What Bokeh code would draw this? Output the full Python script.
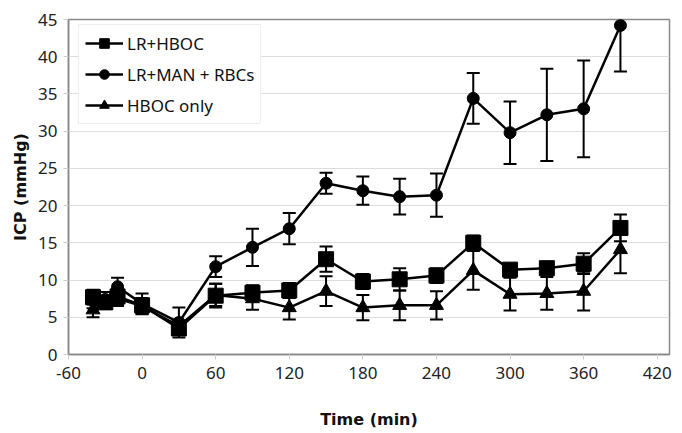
from bokeh.plotting import figure
from bokeh.models import Range1d, ColumnDataSource, Whisker, TeeHead, Legend, LegendItem, FixedTicker
from bokeh.embed import file_html
from bokeh.resources import INLINE

time_min = [-40, -30, -20, 0, 30, 60, 90, 120, 150, 180, 210, 240, 270, 300, 330, 360, 390]

lr_hboc = [7.7, 7.0, 7.8, 6.6, 3.5, 7.9, 8.3, 8.6, 12.8, 9.8, 10.1, 10.6, 15.0, 11.4, 11.6, 12.2, 17.0]
lr_hboc_err = [1.0, 0.8, 1.0, 1.0, 0.8, 1.6, 1.0, 1.0, 1.7, 1.0, 1.5, 1.0, 1.0, 0.8, 0.8, 1.4, 1.8]

lr_man_rbc = [7.2, 7.4, 9.1, 6.8, 4.3, 11.8, 14.4, 16.9, 23.0, 22.0, 21.2, 21.4, 34.4, 29.8, 32.2, 33.0, 44.2]
lr_man_rbc_err = [1.0, 1.0, 1.2, 1.4, 2.0, 1.4, 2.5, 2.1, 1.4, 1.9, 2.4, 2.9, 3.4, 4.2, 6.2, 6.5, 6.2]

hboc_only = [6.0, 7.0, 7.5, 6.5, 3.8, 8.0, 7.5, 6.3, 8.5, 6.3, 6.6, 6.6, 11.3, 8.1, 8.2, 8.5, 14.1]
hboc_only_err = [1.0, 0.8, 1.0, 1.0, 0.8, 1.5, 1.5, 1.6, 2.0, 1.7, 2.0, 1.9, 2.6, 2.2, 2.2, 2.6, 3.2]

x_ticks = [-60, 0, 60, 120, 180, 240, 300, 360, 420]
y_ticks = [0, 5, 10, 15, 20, 25, 30, 35, 40, 45]

labels = ["LR+HBOC", "LR+MAN + RBCs", "HBOC only"]

p = figure(width=682, height=433, output_backend="svg", toolbar_location=None,
           x_range=Range1d(-60, 430), y_range=Range1d(0, 45),
           min_border_left=68, min_border_right=13, min_border_top=19, min_border_bottom=79)
p.background_fill_color = "white"
p.border_fill_color = "white"
p.outline_line_color = "#888888"
p.outline_line_width = 1.5

p.xgrid.grid_line_color = None
p.ygrid.grid_line_color = "#dddddd"
p.ygrid.grid_line_width = 1

p.xaxis.ticker = FixedTicker(ticks=x_ticks)
p.yaxis.ticker = FixedTicker(ticks=y_ticks)
p.xaxis.major_label_overrides = {t: str(t) for t in x_ticks}
for ax in (p.xaxis[0], p.yaxis[0]):
    ax.axis_line_color = "#888888"
    ax.axis_line_width = 1.5
    ax.major_tick_line_color = "#cccccc"
    ax.major_tick_out = 5
    ax.major_tick_in = 0
    ax.minor_tick_line_color = None
    ax.major_label_text_font = "Noto Sans"
    ax.major_label_text_font_size = "17px"
    ax.major_label_text_color = "#222222"
    ax.axis_label_text_font = "DejaVu Sans"
    ax.axis_label_text_font_style = "bold"
    ax.axis_label_text_font_size = "16px"
    ax.axis_label_text_color = "#111111"
p.xaxis.major_label_standoff = 7
p.yaxis.major_label_standoff = 6
p.xaxis.axis_label = "Time (min)"
p.yaxis.axis_label = "ICP (mmHg)"
p.xaxis.axis_label_standoff = 28
p.yaxis.axis_label_standoff = 5

series = [
    (lr_hboc, lr_hboc_err, "square", 15),
    (lr_man_rbc, lr_man_rbc_err, "circle", 12),
    (hboc_only, hboc_only_err, "triangle", 14),
]

items = []
for (vals, errs, marker, size), lab in zip(series, labels):
    src = ColumnDataSource(data=dict(
        x=time_min, y=vals,
        lo=[v - e for v, e in zip(vals, errs)],
        hi=[v + e for v, e in zip(vals, errs)],
    ))
    w = Whisker(source=src, base="x", upper="hi", lower="lo", dimension="height",
                line_color="black", line_width=2,
                upper_head=TeeHead(size=13, line_color="black", line_width=2),
                lower_head=TeeHead(size=13, line_color="black", line_width=2))
    p.add_layout(w)
    r1 = p.line("x", "y", source=src, line_color="black", line_width=2.5)
    r2 = p.scatter("x", "y", source=src, marker=marker, size=size,
                   fill_color="black", line_color="black")
    items.append(LegendItem(label=lab, renderers=[r1, r2]))

legend = Legend(items=items, location=(10, 230), background_fill_color="white",
                border_line_color="#dddddd", border_line_width=1,
                label_text_font="Noto Sans", label_text_font_size="17px",
                label_text_color="#111111",
                glyph_width=38, glyph_height=24, spacing=7, padding=6,
                label_standoff=4, margin=0)
p.add_layout(legend)

open("out.html", "w").write(file_html(p, INLINE))
